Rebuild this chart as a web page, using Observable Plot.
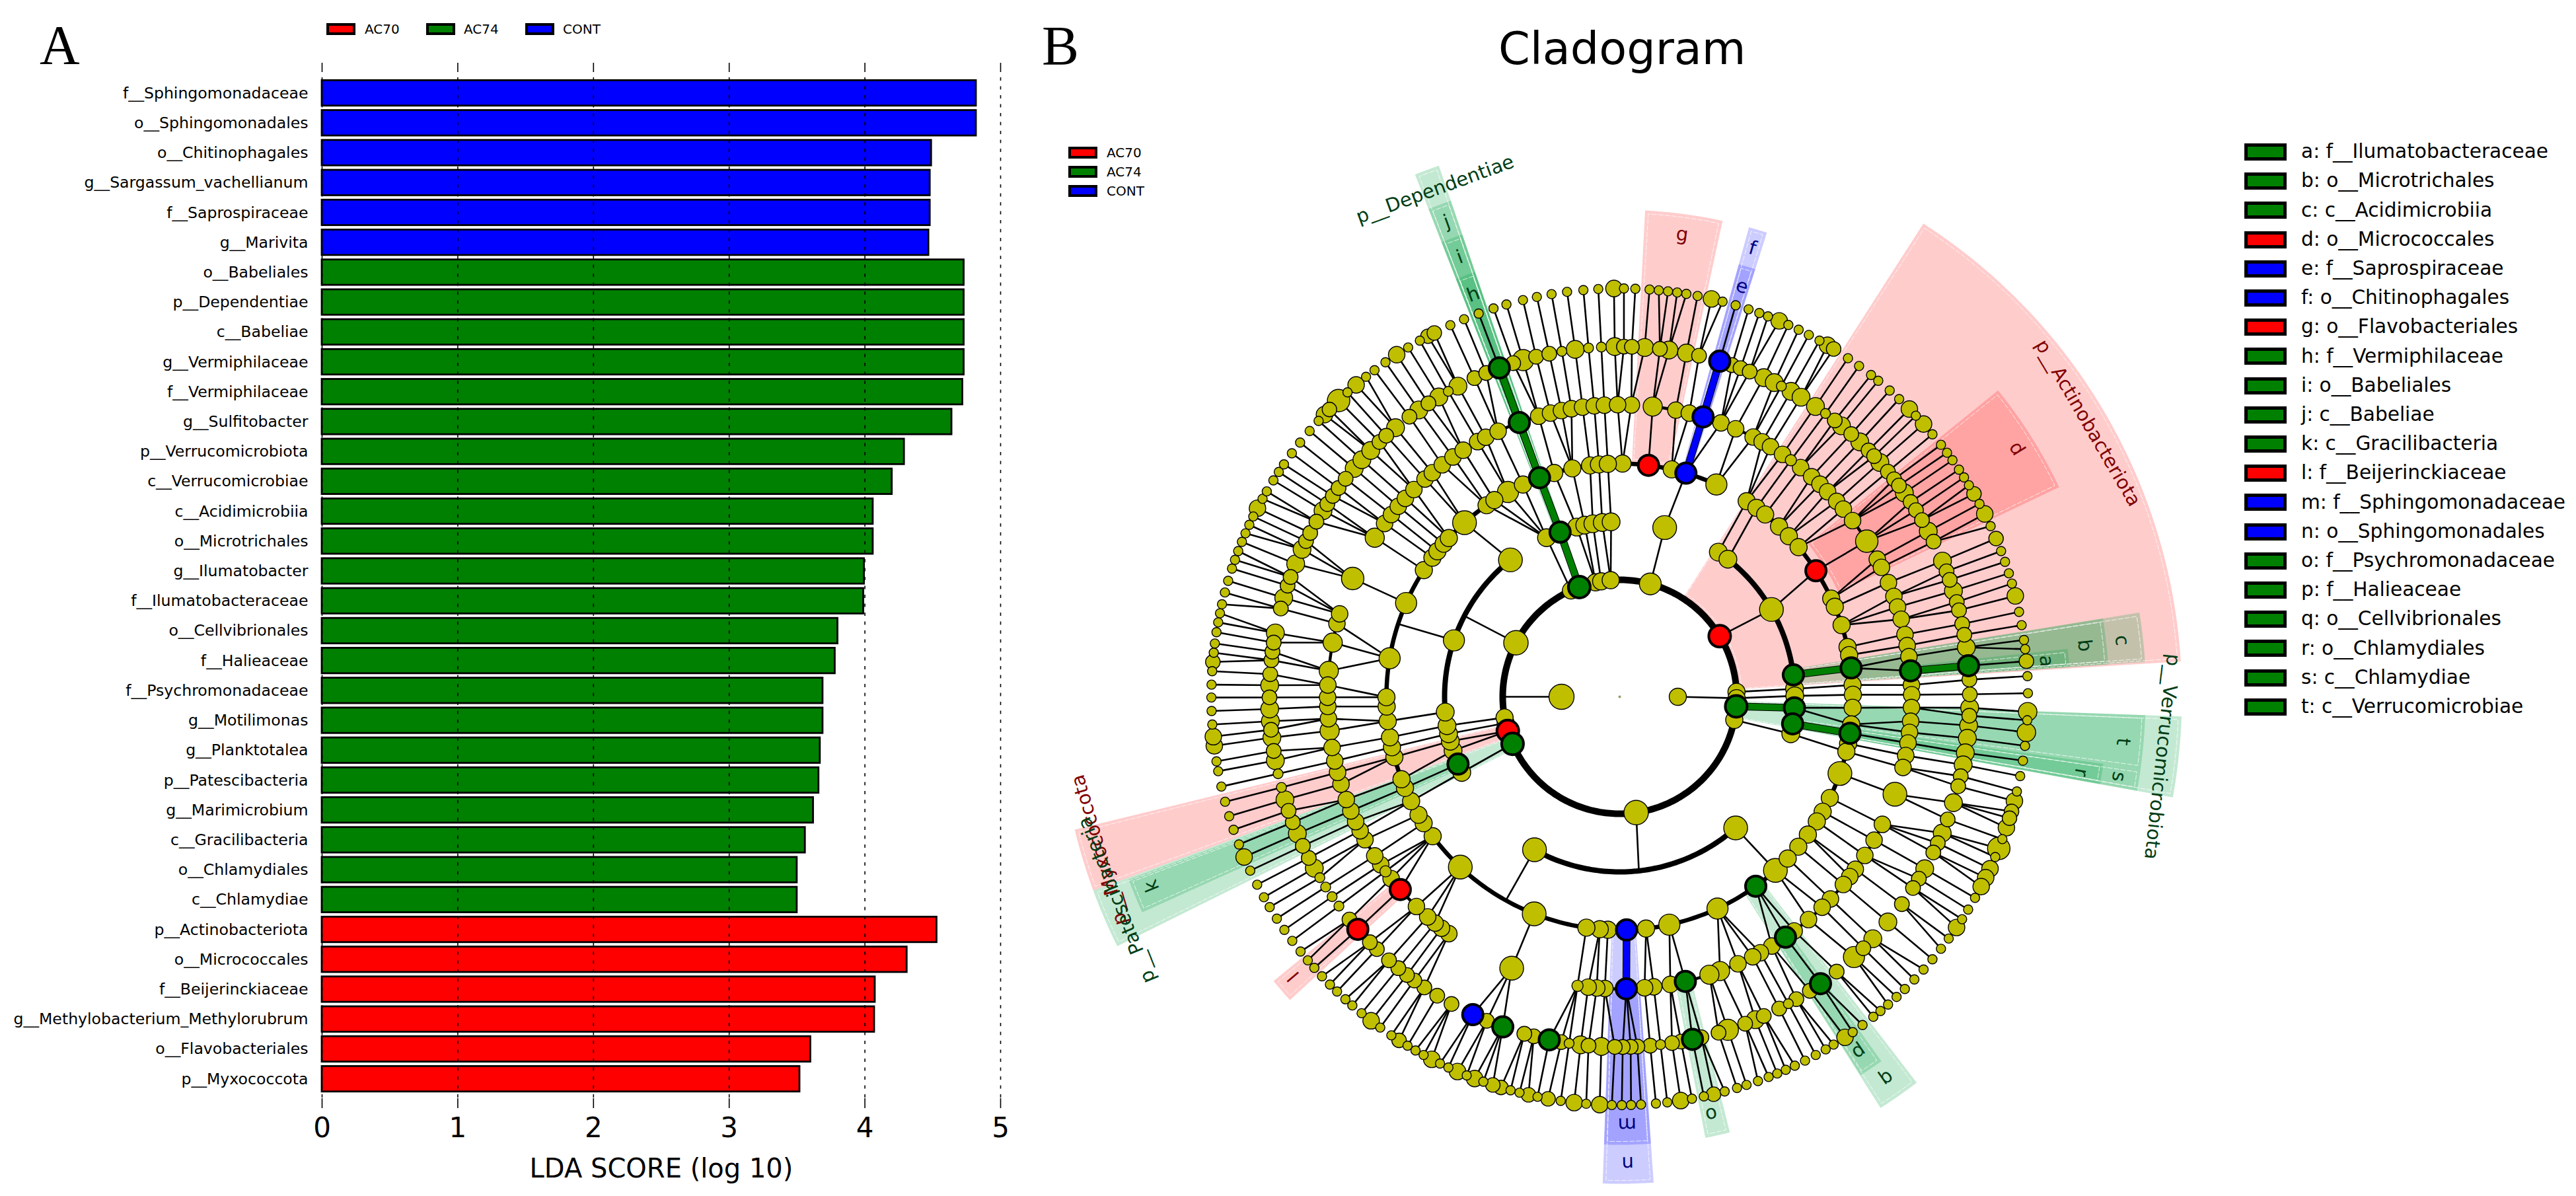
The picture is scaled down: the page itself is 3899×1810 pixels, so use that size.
<!DOCTYPE html>
<html><head><meta charset="utf-8">
<script src="https://cdn.jsdelivr.net/npm/d3@7"></script>
<script src="https://cdn.jsdelivr.net/npm/@observablehq/plot@0.6"></script>
<style>
html,body{margin:0;padding:0;background:#fff}
#page{position:relative;width:3899px;height:1810px;overflow:hidden;font-family:"DejaVu Sans",sans-serif;color:#000}
#page>div,#page>svg{position:absolute}
.sw{position:absolute;box-sizing:border-box;border:solid #000}
.tx{position:absolute;white-space:pre;line-height:1}
.letter{font-family:"Liberation Serif",serif;font-size:84px;line-height:1}
</style></head><body><div id="page"></div>
<script>
// ---------- Panel A: LDA bars ----------
const barLabels=["f__Sphingomonadaceae","o__Sphingomonadales","o__Chitinophagales","g__Sargassum_vachellianum","f__Saprospiraceae","g__Marivita","o__Babeliales","p__Dependentiae","c__Babeliae","g__Vermiphilaceae","f__Vermiphilaceae","g__Sulfitobacter","p__Verrucomicrobiota","c__Verrucomicrobiae","c__Acidimicrobiia","o__Microtrichales","g__Ilumatobacter","f__Ilumatobacteraceae","o__Cellvibrionales","f__Halieaceae","f__Psychromonadaceae","g__Motilimonas","g__Planktotalea","p__Patescibacteria","g__Marimicrobium","c__Gracilibacteria","o__Chlamydiales","c__Chlamydiae","p__Actinobacteriota","o__Micrococcales","f__Beijerinckiaceae","g__Methylobacterium_Methylorubrum","o__Flavobacteriales","p__Myxococcota"];
const barValues=[4.82,4.82,4.49,4.48,4.48,4.47,4.73,4.73,4.73,4.73,4.72,4.64,4.29,4.2,4.06,4.06,3.995,3.99,3.8,3.78,3.69,3.69,3.67,3.66,3.62,3.56,3.5,3.5,4.53,4.31,4.075,4.07,3.6,3.52];
const barClass=[0,0,0,0,0,0].map(()=>"CONT").concat(d3.range(22).map(()=>"AC74"),d3.range(6).map(()=>"AC70"));
const classColor={AC70:"#ff0000",AC74:"#008000",CONT:"#0000ff"};
const classes=["AC70","AC74","CONT"];
const xTicks=[0,1,2,3,4,5];

// ---------- Panel B: cladogram (angle in degrees, clockwise from north) ----------
const ringRadius=[88,177,265,353,442,530,618];
const ring0=[90,270];
const ring1=[15.2,58.8,87.6,90.7,94.7,101.4,171.9,246.3,253,257,259.8,297.5,335.4,339.8,348.1,350.9,355.6];
const ring2=[14.9,34.3,38.2,60.1,82.8,87.4,89.7,93.6,98.9,102.2,138.5,209.1,244.4,247.4,252.1,255.3,257.8,260.5,265,288.8,321.4,335.3,340.1,345.8,348.5,351.2,354.3,357.2];
const ring3=[0.7,7.1,12.9,16.5,24.5,33,35.9,38.6,43.1,46.5,50.1,57.3,65.1,67.3,72.1,77.7,79.7,82.9,87.1,89.5,92.7,96.8,99,101.6,103.6,109.2,115.7,119.5,122.3,126.2,130,133.9,138.1,144.3,155.2,167.7,173.5,178.3,182.9,184.9,188.2,201.5,223.1,233.3,237.2,239.6,243.4,247,249.3,255,257.5,260,264,267.6,269.9,279.5,293.7,302.9,306.6,308.6,311,312.9,318.3,325.2,327.5,331.4,335.5,339.9,343.7,348.3,352.7,354.9,357.1];
const ring4=[2.3,6.5,11.1,13.8,16.6,20.3,23.4,27.2,29.2,31.1,33.9,35.9,38.3,41.1,43.3,45.4,48,50,52.9,57.8,61.9,63.7,67,69.9,72.1,74.6,77.7,79.9,82.1,84.9,87.7,89.6,92.1,94.8,97,99.1,101.6,104,109.5,115.9,119.4,122.9,126.2,128,130,133.8,136.1,139.7,143.3,145.4,148.6,151.2,152.9,156.1,159.9,162.1,167,170,173.3,175.1,178.7,182.9,184.5,186.2,188.3,201.7,215.8,217.6,219.2,221.1,224.1,228.7,231.5,233.3,234.9,237,240.7,242.7,244.7,247,249.4,252.6,255,257.3,260,263.3,265.7,268.1,269.9,272.3,275.1,280.7,284.5,286.5,293.9,303,306.4,308.6,310.7,312.8,315.2,318.2,320.1,322.6,325.2,327.6,330.9,332.7,335.4,339.9,343.9,346.3,348.5,350.5,352.7,355,357,359.6];
const ring5=[0.7,2,4.1,6.6,8.1,11,13.1,16.6,18.7,20.2,21.8,24.3,26.2,27.5,29.3,31.2,34,36,37.9,39.3,41.4,43.3,45.3,46.6,48,50,51.6,52.9,54.4,56.2,57.8,59.7,61.8,63.7,67.2,69,70.5,72.4,74.3,75.7,78,79.8,81.9,84.9,87.2,89.6,91.8,93.1,94.7,96.8,99.2,101.2,103.1,104.8,107.6,110.5,112.9,114.7,116.4,119.4,121.3,123.1,126.3,130,133.7,135.9,138,141.7,145,147.1,149.7,151.2,152.9,155.7,157.2,159,162,163.6,166.5,168,169.9,171.4,173.3,175,177.1,178.2,179.5,180.8,183,185.1,186.4,188.3,189.6,191.6,194.2,195.8,199.5,202.3,204.8,208.7,211.4,213.9,215.9,217.4,219.2,221.2,223.9,225.5,228.4,230.5,233.3,235.2,237.1,238.9,240.7,242.6,244.8,247,249,251,252.9,255,257.3,259.5,261.1,263.3,264.6,266,268,269.9,271.9,273.7,276,277.4,278.9,280.5,284.6,286.4,288.5,290,292.3,294.9,296.4,297.9,300,302.1,303.4,305,306.6,308.5,310.7,312.6,314.7,316.7,318.2,320.2,323.1,325,326.9,328.9,330.7,332.5,335.5,337.6,339.9,342.3,344,346.2,348.4,350.5,352.7,354.9,357,359.2];
const ring6=[0.6,2.2,4.2,5.5,6.8,8.1,9.4,11,13,14.6,16.5,18.4,20,21.3,23,24.4,26,27.6,29.3,30.6,31.6,34,35.9,38,39.3,41.4,43.2,45.2,46.5,48.1,50,51.9,53.3,54.6,56.2,57.5,58.8,60.2,61.8,63.4,65.3,67.2,69.1,70.7,72.4,73.9,75.7,78,79.9,82,83.3,85,87.1,89.5,92.1,93.3,95,96.9,99,101.2,103.4,104.8,106.3,107.3,108.7,110.4,111.8,113.1,114.9,116.3,117.7,119.5,121.4,123,124.4,126.3,128.1,130,131.9,133.8,135.7,137.3,138.9,140.3,141.6,143.5,145.2,146.5,148.4,149.7,151.3,153,154.6,156,157.3,158.6,160.2,161.9,163.3,165.1,166.7,168.1,169.8,171.4,173.3,174.9,177,178.4,179.7,181.1,182.8,184.7,186.4,188.3,190.1,191.6,192.9,194.2,195.5,196.9,198.1,199.5,200.8,202,203.4,204.8,206.1,207.4,208.7,210,211.3,212.7,214,215.9,217.5,219.2,220.9,222.2,223.8,225.2,226.8,228.4,229.8,231.4,233.3,235.2,237.1,239,240.6,242.6,244.8,246.9,248.8,251,253,255.1,257.3,259.5,260.9,263.1,264.4,266.1,268,269.9,271.7,273.6,274.9,276.2,277.5,279.1,280.5,281.8,283.1,284.8,286.5,288.3,289.6,290.9,292.3,293.6,294.9,296.2,297.5,299,300.2,302,303.4,304.7,306.6,308.5,310.6,312.5,313.7,314.7,316.5,318.2,319.8,321.6,323.1,325,326.9,328.8,330.7,332,333,335.5,337.6,339.8,342,343.9,346.3,348.3,350.4,352.6,354.9,357,359.2];
const ringDefault=[13,13,13.5,13,12.5,11.2,7];
// node radii that differ from the ring's usual one: [ring, radius, angles]
const nodeSizes=[
 [0,19,[270]],
 [1,16.5,[15.2]],[1,18.5,[171.9,297.5]],
 [2,18,[14.9,60.1,138.5,209.1,321.4]],[2,16,[288.8]],
 [3,16,[24.5,155.2,167.7,279.5,293.7,331.4]],[3,18,[109.2,138.1,201.5,223.1,318.3]],
 [4,17,[57.8,293.9]],[4,18,[109.5,201.7]],[4,14.5,[303,159.9,162.1,6.5,263.3,275.1,280.7]],[4,8.5,[35.9,233.3,188.3]],
 [5,13.5,[4.1,8.1,11,24.3,26.2,29.3,31.2,34,39.3,43.3,48,54.4,61.8,67.2,72.4,81.9,91.8,94.7,96.8,99.2,101.2,107.6,112.9,119.4,130,133.7,157.2,183,186.4,240.7,247,252.9,259.5,263.3,266,268,271.9,280.5,286.4,292.3,294.9,302.1,310.7,312.6,314.7,320.2,325,328.9,332.5,352.7,359.2]],
 [5,16,[138,162,344]],
 [5,7.5,[27.5,36,151.2,173.3,233.3,235.2,237.1,238.9,255,257.3,188.3,330.7,350.5,354.9,357]],
 [6,12.5,[13,23,30.6,45.2,48.1,63.4,75.7,104.8,108.7,114.9,116.3,117.7,124.4,146.5,171.4,182.8,186.4,200.8,203.4,207.4,217.5,246.9,263.1,264.4,297.5,313.7,319.8,326.9,359.2]],
 [6,11,[31.6,60.2,67.2,85,106.3,107.3,166.7,190.1,192.9,196.9,198.1,212.7,274.9,314.7,332,333]],
 [6,14,[92.1,95]],
 [6,17,[111.8,316.5]]
];
// coloured (significant) nodes: [ring, angle, class]
const markedNodes=[[1,58.8,"AC70"],[1,94.7,"AC74"],[1,246.3,"AC74"],[1,253,"AC70"],[1,339.8,"AC74"],
 [2,82.8,"AC74"],[2,93.6,"AC74"],[2,98.9,"AC74"],[2,247.4,"AC74"],[2,340.1,"AC74"],
 [3,7.1,"AC70"],[3,16.5,"CONT"],[3,57.3,"AC70"],[3,82.9,"AC74"],[3,99,"AC74"],[3,144.3,"AC74"],[3,178.3,"CONT"],[3,339.9,"AC74"],
 [4,16.6,"CONT"],[4,84.9,"AC74"],[4,145.4,"AC74"],[4,167,"AC74"],[4,178.7,"CONT"],[4,228.7,"AC70"],[4,339.9,"AC74"],
 [5,16.6,"CONT"],[5,84.9,"AC74"],[5,145,"AC74"],[5,168,"AC74"],[5,191.6,"AC74"],[5,199.5,"AC74"],[5,204.8,"CONT"],[5,228.4,"AC70"],[5,339.9,"AC74"]];
// thin links among the inner rings: [ringA, angleA, ringB, angleB]
const innerLinks=[[0,90,1,90.7],[0,270,1,270],
 [1,15.2,2,14.9],[1,58.8,2,60.1],[1,87.6,2,87.4],[1,90.7,2,89.7],[1,101.4,2,102.2],[1,171.9,2,173.7],[1,246.3,2,244.4],[1,253,2,252.1],[1,253,2,255.3],[1,257,2,257.8],[1,259.8,2,260.5],[1,297.5,2,297.5],[1,335.4,2,335.3],[1,348.1,2,345.8],[1,348.1,2,348.5],[1,350.9,2,351.2],[1,355.6,2,354.3],[1,355.6,2,357.2],
 [2,14.9,3,16.5],[2,34.3,3,33],[2,38.2,3,35.9],[2,60.1,3,57.3],[2,87.4,3,87.1],[2,89.7,3,89.5],[2,93.6,3,92.7],[2,93.6,3,96.8],[2,102.2,3,103.6],[2,138.5,3,138.1],[2,209.1,3,209.2],[2,244.4,3,243.4],[2,247.4,3,247],[2,252.1,3,249.3],[2,255.3,3,255],[2,257.8,3,257.5],[2,260.5,3,260],[2,265,3,264],[2,288.8,3,288.2],[2,321.4,3,318.3],[2,335.3,3,325.2],[2,335.3,3,327.5],[2,335.3,3,331.4],[2,335.3,3,335.5],[2,345.8,3,343.7],[2,348.5,3,348.3],[2,351.2,3,352.7],[2,354.3,3,354.9],[2,357.2,3,357.1]];
// thick coloured links
const boldLinks=[[3,16.5,4,16.6,"CONT"],[4,16.6,5,16.6,"CONT"],[3,178.3,4,178.7,"CONT"],
 [1,339.8,2,340.1,"AC74"],[2,340.1,3,339.9,"AC74"],[3,339.9,4,339.9,"AC74"],[4,339.9,5,339.9,"AC74"],
 [2,82.8,3,82.9,"AC74"],[4,84.9,5,84.9,"AC74"],[1,94.7,2,93.6,"AC74"],[2,98.9,3,99,"AC74"]];
// thick arcs on rings: [ring, width, start, end]
const ringArcs=[[1,10,0,360],[2,8,34.3,102.2],[2,8,138.5,209.1],[2,8,244.4,321.4],[2,8,335.3,357.2],[3,6.5,33,384.5],[4,4.5,303,362.3],[4,4.5,6.5,104],[4,4.5,115.9,188.3],[4,4.5,215.8,286.5]];
// shaded clades: [class, angle start, angle end, inner radius, outer radius]
const clades=[["AC70",32.7,86.4,180,851],["AC70",51,64.5,367,737],["AC70",3,12.2,355,737],["AC70",227.4,230.6,442,678],["AC70",249.8,256.3,180,849],
 ["AC74",80.8,86.2,265,797],["AC74",80.8,86.2,353,741],["AC74",83.9,86.2,442,682],
 ["AC74",92,100.3,180,851],["AC74",92,97.9,265,796],["AC74",97.9,100.3,265,796],["AC74",97.9,100.3,353,739],
 ["AC74",338.6,341.2,180,849],["AC74",338.6,341.2,265,793],["AC74",338.6,341.2,353,739],["AC74",338.6,341.2,442,679],
 ["AC74",243.6,249.8,180,849],["AC74",245.7,249.6,265,793],["AC74",165.8,169,442,680],["AC74",142.4,147.6,353,737],["AC74",144.3,147.5,442,679],
 ["CONT",15.4,17.6,353,737],["CONT",15.4,17.6,442,679],["CONT",176,182,353,737],["CONT",176,182,442,678]];
const cladeFill={AC70:"#ff0000",AC74:"#00a040",CONT:"#0000ff"};
const cladeInk={AC70:"#800000",AC74:"#003d15",CONT:"#000080"};
// clade labels: [text, angle, radius, class]
const cladeLabels=[["p__Actinobacteriota",59.7,821,"AC70"],["p__Verrucomicrobiota",96.3,826,"AC74"],["p__Dependentiae",340,817,"AC74"],["p__Myxococcota",253.6,821,"AC70"],["p__Patescibacteria",248,821,"AC74"],
 ["g",7.7,706,"AC70"],["f",16.5,708,"CONT"],["e",16.6,648,"CONT"],["d",58,709,"AC70"],["c",83.6,765,"AC74"],["b",83.7,708,"AC74"],["a",85.2,648,"AC74"],["t",95.1,765,"AC74"],["s",99.1,765,"AC74"],["r",99.3,708,"AC74"],["j",340,765,"AC74"],["i",340,708,"AC74"],["h",340,648,"AC74"],["k",248,764,"AC74"],["l",229.4,650,"AC70"],["m",179,647,"CONT"],["n",179,706,"CONT"],["o",167.6,647,"AC74"],["p",146,648,"AC74"],["q",145,705,"AC74"]];
const keyLetters=["a: f__Ilumatobacteraceae","b: o__Microtrichales","c: c__Acidimicrobiia","d: o__Micrococcales","e: f__Saprospiraceae","f: o__Chitinophagales","g: o__Flavobacteriales","h: f__Vermiphilaceae","i: o__Babeliales","j: c__Babeliae","k: c__Gracilibacteria","l: f__Beijerinckiaceae","m: f__Sphingomonadaceae","n: o__Sphingomonadales","o: f__Psychromonadaceae","p: f__Halieaceae","q: o__Cellvibrionales","r: o__Chlamydiales","s: c__Chlamydiae","t: c__Verrucomicrobiae"];
const keyClass=["AC74","AC74","AC74","AC70","CONT","CONT","AC70","AC74","AC74","AC74","AC74","AC70","CONT","CONT","AC74","AC74","AC74","AC74","AC74","AC74"];

// ---------- geometry helpers ----------
const rad=d=>d*Math.PI/180;
const X=(r,a)=>r*Math.sin(rad(a));
const Y=(r,a)=>r*Math.cos(rad(a));
const rings=[ring0,ring1,ring2,ring3,ring4,ring5,ring6];
const sep=(a,b)=>{const d=Math.abs(a-b)%360;return Math.min(d,360-d)};
const sizeMap=new Map();
nodeSizes.forEach(([k,s,as])=>as.forEach(a=>sizeMap.set(k+":"+a,s)));
const nodes=rings.flatMap((as,k)=>as.map(a=>({r:ringRadius[k],a,s:sizeMap.get(k+":"+a)??ringDefault[k]})));
// outer rings: each node joins the closest node of the next ring in
const outerLinks=[];
[[6,999],[5,3.5],[4,5]].forEach(([k,limit])=>{
  rings[k].forEach(a=>{
    const p=d3.least(rings[k-1],b=>sep(a,b));
    if(sep(a,p)<=limit) outerLinks.push({r1:ringRadius[k],a1:a,r2:ringRadius[k-1],a2:p});
  });
});
const allLinks=outerLinks.concat(innerLinks.map(([k,a,m,b])=>({r1:ringRadius[k],a1:a,r2:ringRadius[m],a2:b})));
const bold=boldLinks.map(([k,a,m,b,c])=>({r1:ringRadius[k],a1:a,r2:ringRadius[m],a2:b,c}));
const arcPoints=(r,a0,a1)=>{const n=Math.max(2,Math.ceil(Math.abs(a1-a0)));return d3.range(n+1).map(i=>a0+(a1-a0)*i/n).map(a=>({r,a}))};
const wedgePoints=(a0,a1,r0,r1)=>arcPoints(r0,a0,a1).concat(arcPoints(r1,a1,a0));
const closed=p=>p.concat([p[0]]);

const linkOpts={x1:d=>X(d.r1,d.a1),y1:d=>Y(d.r1,d.a1),x2:d=>X(d.r2,d.a2),y2:d=>Y(d.r2,d.a2)};
const cladoMarks=[
  ...clades.map(([c,a0,a1,r0,r1])=>Plot.line(wedgePoints(a0,a1,r0,r1),{x:d=>X(d.r,d.a),y:d=>Y(d.r,d.a),fill:cladeFill[c],fillOpacity:c==="AC74"?0.23:0.2,stroke:"none"})),
  ...clades.map(([c,a0,a1,r0,r1])=>{const dr=5;const da0=dr/r1*57.3;return Plot.line(closed(wedgePoints(a0+da0,a1-da0,r0+dr,r1-dr)),{x:d=>X(d.r,d.a),y:d=>Y(d.r,d.a),stroke:"#fff",strokeWidth:1,strokeOpacity:0.75,strokeDasharray:"7,3"})}),
  Plot.link(allLinks,{...linkOpts,stroke:"#000",strokeWidth:2.6}),
  ...ringArcs.map(([k,w,a0,a1])=>Plot.line(arcPoints(ringRadius[k],a0,a1),{x:d=>X(d.r,d.a),y:d=>Y(d.r,d.a),stroke:"#000",strokeWidth:w})),
  Plot.link(bold,{...linkOpts,stroke:"#000",strokeWidth:11.5}),
  ...classes.map(c=>Plot.link(bold.filter(d=>d.c===c),{...linkOpts,stroke:classColor[c],strokeWidth:9.5})),
  Plot.dot([0],{x:()=>0,y:()=>0,r:()=>2,fill:"#999966",stroke:"none"}),
  Plot.dot(nodes,{x:d=>X(d.r,d.a),y:d=>Y(d.r,d.a),r:"s",fill:"#bfbf00",stroke:"#000",strokeWidth:1.4}),
  ...classes.map(c=>Plot.dot(markedNodes.filter(d=>d[2]===c),{x:d=>X(ringRadius[d[0]],d[1]),y:d=>Y(ringRadius[d[0]],d[1]),r:d=>d[0]===1?16.5:15.5,fill:classColor[c],stroke:"#000",strokeWidth:4})),
  ...classes.map(c=>Plot.text(cladeLabels.filter(d=>d[3]===c),{x:d=>X(d[2],d[1]),y:d=>Y(d[2],d[1]),text:d=>d[0],rotate:d=>d[1],fontSize:29,fill:cladeInk[c],textAnchor:"middle",lineAnchor:"middle"}))
];
const clado=Plot.plot({width:3899,height:1810,margin:0,marginTop:0,marginBottom:0,marginLeft:0,marginRight:0,
  x:{domain:[-2451,1448],range:[0,3899],axis:null},
  y:{domain:[-756,1054],range:[1810,0],axis:null},
  r:{type:"identity"},
  style:{background:"transparent",fontFamily:"DejaVu Sans"},
  marks:cladoMarks});

const rows=barLabels.map((name,i)=>({name,value:barValues[i],cls:barClass[i]}));
const bars=Plot.plot({width:1570,height:1810,marginLeft:487,marginRight:56,marginTop:95,marginBottom:133,
  x:{domain:[0,5],axis:null},
  y:{domain:barLabels,range:[114.6,1658.6],padding:0.15,round:false,axis:null},
  style:{background:"transparent",fontFamily:"DejaVu Sans",color:"#000"},
  marks:[
    ...classes.map(c=>Plot.barX(rows.filter(d=>d.cls===c),{x:"value",y:"name",fill:classColor[c],stroke:"#000",strokeWidth:2.8})),
    Plot.ruleX(xTicks,{stroke:"#000",strokeWidth:1.6,strokeDasharray:"5,8.5",insetTop:22,insetBottom:15}),
    Plot.ruleX(xTicks,{stroke:"#000",strokeWidth:1.6,insetBottom:1568}),
    Plot.ruleX(xTicks,{stroke:"#000",strokeWidth:1.6,insetTop:1567}),
    Plot.axisY({anchor:"left",tickSize:0,tickPadding:21,fontSize:23.6,label:null}),
    Plot.axisX(xTicks,{anchor:"bottom",tickSize:0,tickPadding:14,fontSize:42,label:null,tickFormat:"d"}),
    Plot.text(["LDA SCORE (log 10)"],{frameAnchor:"bottom",dy:92,lineAnchor:"middle",fontSize:40,fill:"#000"})
  ]});

// ---------- page assembly ----------
const page=document.getElementById("page");
for(const [el,l] of [[clado,0],[bars,0]]){el.style.position="absolute";el.style.left=l+"px";el.style.top="0";page.appendChild(el)}
function add(cls,css,text){const d=document.createElement("div");d.className=cls;Object.assign(d.style,{position:"absolute"},css);if(text!=null)d.textContent=text;page.appendChild(d);return d}
function swatch(x,y,w,h,b,c){add("sw",{left:x+"px",top:y+"px",width:w+"px",height:h+"px",borderWidth:b+"px",background:c})}
function label(x,cy,size,t){add("tx",{left:x+"px",top:(cy-size/2)+"px",fontSize:size+"px"},t)}
add("letter",{left:"60px",top:"27px"},"A");
add("letter",{left:"1577px",top:"28px"},"B");
add("tx",{left:"2268px",top:"39px",fontSize:"68.5px"},"Cladogram");
[[494,552],[645,702],[795,852]].forEach(([sx,tx],i)=>{swatch(sx,35,44,18,4,classColor[classes[i]]);label(tx,44,20,classes[i])});
[231,260,289].forEach((cy,i)=>{swatch(1617,cy-9,44,18,4,classColor[classes[i]]);label(1675,cy,20,classes[i])});
keyLetters.forEach((t,i)=>{const cy=230+44.2*i;swatch(3397,cy-13,64,26,5,classColor[keyClass[i]]);label(3483,cy,29.6,t)});
</script></body></html>
